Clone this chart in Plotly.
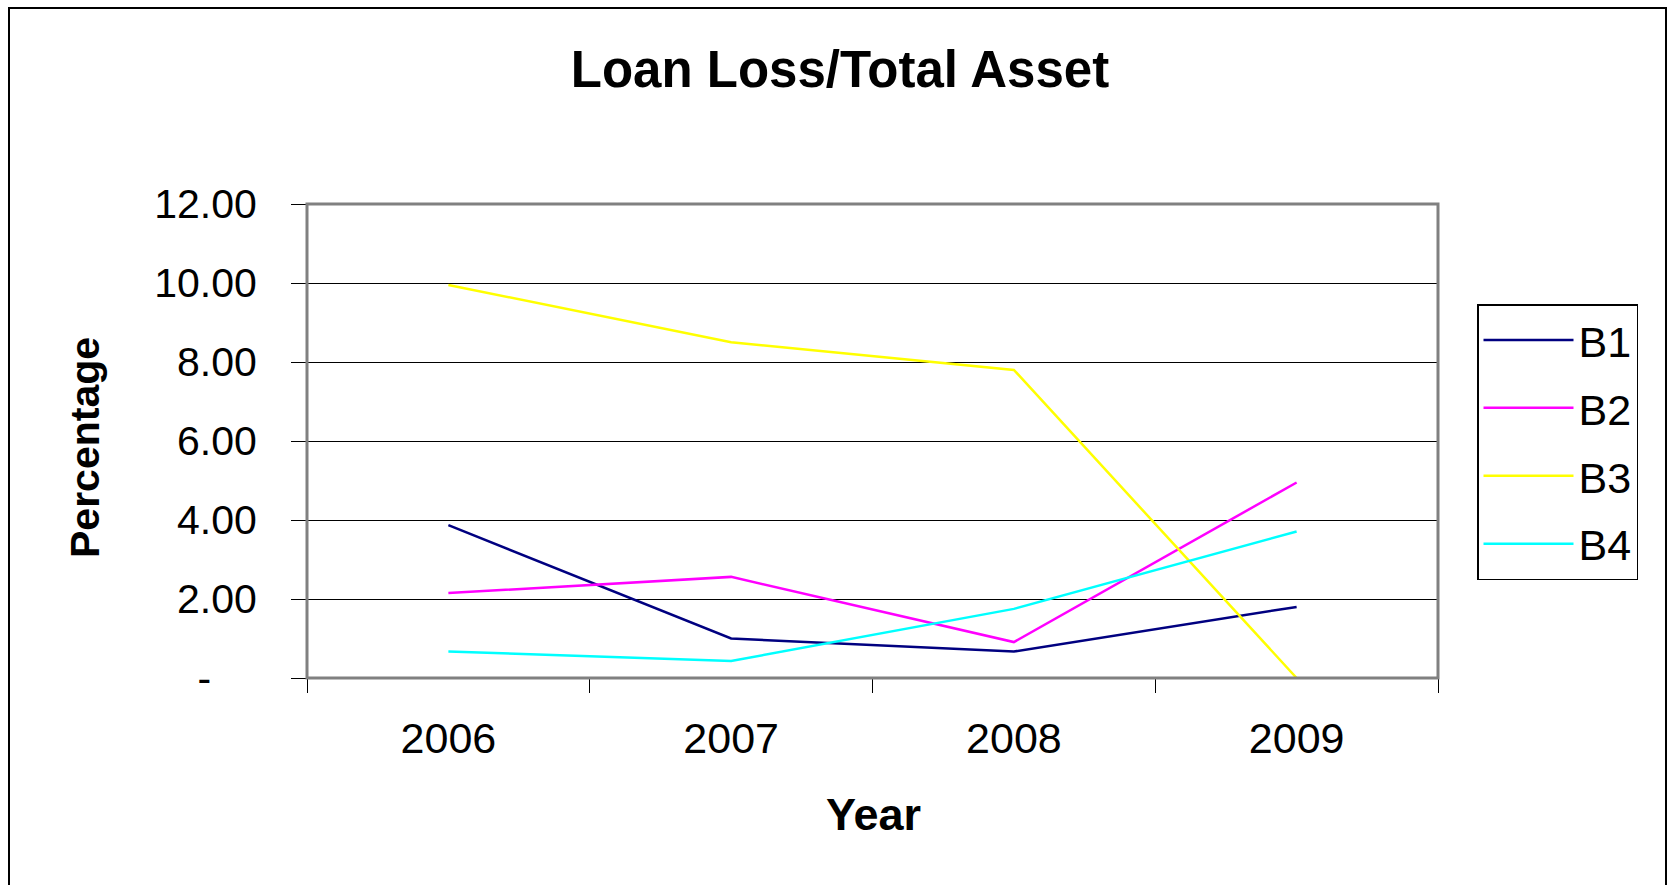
import plotly.graph_objects as go

years = ["2006", "2007", "2008", "2009"]
b1 = [3.87, 1.00, 0.67, 1.80]
b2 = [2.15, 2.56, 0.91, 4.95]
b3 = [9.95, 8.50, 7.80, 0.00]
b4 = [0.67, 0.43, 1.75, 3.71]
series_names = ["B1", "B2", "B3", "B4"]
series_colors = ["#000080", "#FF00FF", "#FFFF00", "#00FFFF"]
y_tickvals = [0, 2, 4, 6, 8, 10, 12]
y_ticktext = ["-&nbsp;&nbsp;&nbsp;&nbsp;", "2.00", "4.00", "6.00", "8.00", "10.00", "12.00"]

W, H = 1668, 885
L, R, T, B = 307, 1438, 204, 678
pw, ph = R - L, B - T

def px(x):
    return (x - L) / pw

def py(y):
    return (B - y) / ph

fig = go.Figure()
for name, vals, col in zip(series_names, [b1, b2, b3, b4], series_colors):
    fig.add_trace(go.Scatter(x=years, y=vals, name=name, mode="lines", legendgroup=name,
                             line=dict(color=col, width=2.5)))

font_family = "Liberation Sans, Arial, sans-serif"

fig.update_layout(
    width=W, height=H,
    margin=dict(l=L, r=W - R, t=T, b=H - B),
    paper_bgcolor="white", plot_bgcolor="white",
    font=dict(family=font_family, color="black"),
    showlegend=True,
    title=dict(text="<b>Loan Loss/Total Asset</b>", x=840 / W, xref="container",
               y=1 - 69 / H, yref="container", xanchor="center", yanchor="middle",
               font=dict(size=51, family=font_family, color="black")),
    legend=dict(x=px(1477), y=py(304), xanchor="left", yanchor="top",
                bordercolor="black", borderwidth=1.5, bgcolor="white",
                font=dict(size=43, family=font_family, color="black"),
                itemwidth=90, tracegroupgap=9),
    xaxis=dict(type="category", tickson="boundaries", range=[-0.5, 3.5],
               showgrid=False, showline=True, linecolor="black", linewidth=1,
               ticks="outside", ticklen=14, tickcolor="black", tickwidth=1,
               tickfont=dict(size=43, family=font_family, color="black"),
               ticklabelstandoff=22, zeroline=False),
    yaxis=dict(range=[0, 12], tickvals=y_tickvals, ticktext=y_ticktext,
               showgrid=True, gridcolor="black", gridwidth=1,
               showline=True, linecolor="black", linewidth=1,
               ticks="outside", ticklen=15, tickcolor="black", tickwidth=1,
               tickfont=dict(size=41, family=font_family, color="black"),
               ticklabelstandoff=26, zeroline=False),
    shapes=[
        dict(type="rect", xref="paper", yref="paper", x0=0, x1=1, y0=0, y1=1,
             line=dict(color="#808080", width=3), layer="above"),
        dict(type="rect", xref="paper", yref="paper", x0=px(9), x1=px(1666),
             y0=py(8), y1=py(900), line=dict(color="black", width=2), layer="below"),
    ],
    annotations=[
        dict(text="<b>Percentage</b>", xref="paper", yref="paper", x=px(85), y=py(448),
             xanchor="center", yanchor="middle", textangle=-90, showarrow=False,
             font=dict(size=41, family=font_family, color="black")),
        dict(text="<b>Year</b>", xref="paper", yref="paper", x=px(873), y=py(814),
             xanchor="center", yanchor="middle", showarrow=False,
             font=dict(size=45, family=font_family, color="black")),
    ],
)

fig.write_html("out.html")
